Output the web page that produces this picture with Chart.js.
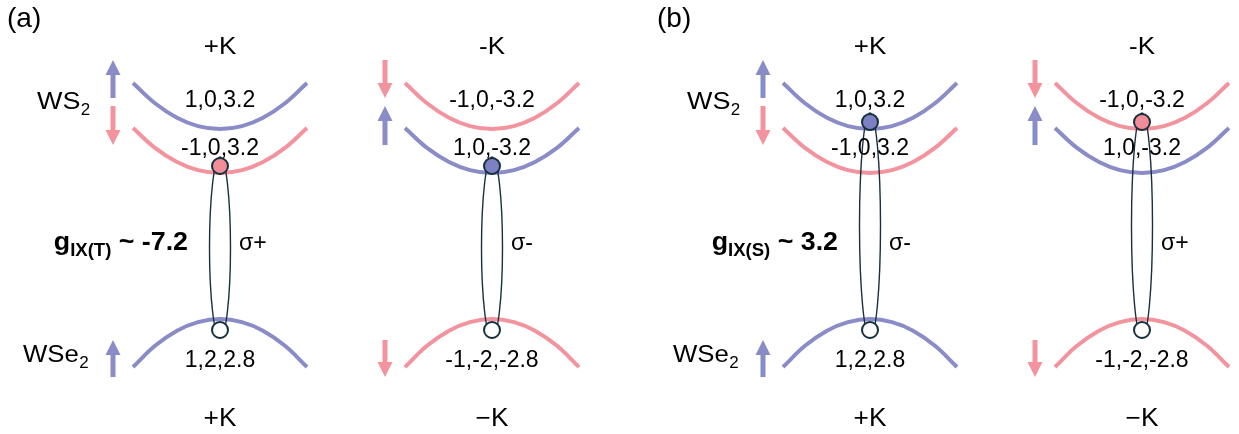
<!DOCTYPE html>
<html>
<head>
<meta charset="utf-8">
<script src="https://cdn.jsdelivr.net/npm/chart.js@4/dist/chart.umd.min.js"></script>
<style>
  html, body { margin: 0; padding: 0; background: #fff; }
  #wrap { width: 1239px; height: 434px; }
</style>
</head>
<body>
<div id="wrap"><canvas id="c" width="1239" height="434"></canvas></div>
<script>
// ---- valleys (columns): (a) +K, (a) -K, (b) +K, (b) -K ----
const panelNames = ['(a)', '(b)'];
const valleyNamesTop = ['+K', '-K', '+K', '-K'];
const valleyNamesBottom = ['+K', '\u2212K', '+K', '\u2212K'];
const valleyK = [220, 492, 870, 1142];

// k samples around each valley centre and band energies at those samples
const kSamples = [-87, -65, -43, -22, 0, 22, 43, 65, 87];
const ws2UpperE = [351, 330.7, 316.2, 307.9, 305, 307.9, 316.2, 330.7, 351];
const ws2LowerE = [306, 286.1, 272, 263.9, 261, 263.9, 272, 286.1, 306];
const wse2E = [67, 88.2, 103.3, 111.9, 115, 111.9, 103.3, 88.2, 67];

// spin of the upper WS2 band (the WSe2 band carries the same spin)
const upperSpin = ['up', 'down', 'up', 'down'];
// WS2 band that holds the electron of the interlayer exciton
const electronBand = ['lower', 'lower', 'upper', 'upper'];
const electronE = [268, 268, 312, 312];
const holeE = [104, 104, 104, 104];

// quantum-number labels
const upperQN = ['1,0,3.2', '-1,0,-3.2', '1,0,3.2', '-1,0,-3.2'];
const lowerQN = ['-1,0,3.2', '1,0,-3.2', '-1,0,3.2', '1,0,-3.2'];
const valenceQN = ['1,2,2.8', '-1,-2,-2.8', '1,2,2.8', '-1,-2,-2.8'];
const polarisation = ['σ+', 'σ-', 'σ-', 'σ+'];

// g-factors per panel
const gSub = ['IX(T)', 'IX(S)'];
const gValue = [-7.2, 3.2];

// ---- styling ----
const BLUE = '#8a8cc8', PINK = '#f2939d';
const BLUE_FILL = '#7b81c2', PINK_FILL = '#f08d98';
const DARK = '#17303d';
const FONT = '"Liberation Sans", Arial, Helvetica, sans-serif';
const spinColour = s => (s === 'up' ? BLUE : PINK);
const spinFill = s => (s === 'up' ? BLUE_FILL : PINK_FILL);
const flip = s => (s === 'up' ? 'down' : 'up');

const datasets = [];
valleyK.forEach((k0, v) => {
  const bands = [
    [ws2UpperE, upperSpin[v]],
    [ws2LowerE, flip(upperSpin[v])],
    [wse2E, upperSpin[v]]
  ];
  bands.forEach(([E, s]) => {
    datasets.push({
      type: 'line',
      data: kSamples.map((dk, i) => ({ x: k0 + dk, y: E[i] })),
      borderColor: spinColour(s),
      borderWidth: 4,
      borderCapStyle: 'butt',
      pointRadius: 0,
      tension: 0.4,
      fill: false,
      order: 3
    });
  });
});

// electron (filled) and hole (open) markers
const markerData = [], markerFill = [];
valleyK.forEach((k0, v) => {
  const bandSpin = electronBand[v] === 'upper' ? upperSpin[v] : flip(upperSpin[v]);
  markerData.push({ x: k0, y: electronE[v] });
  markerFill.push(spinFill(bandSpin));
});
valleyK.forEach((k0, v) => {
  markerData.push({ x: k0, y: holeE[v] });
  markerFill.push('#ffffff');
});
const MARKERS = datasets.length;
datasets.push({
  type: 'scatter',
  data: markerData,
  pointRadius: 8,
  pointHoverRadius: 8,
  backgroundColor: markerFill,
  borderColor: DARK,
  borderWidth: 2,
  order: 1
});

function arrow(ctx, x, yTail, yHead, colour) {
  const dir = Math.sign(yHead - yTail);
  const headLen = 15, headHalf = 7.5, shaft = 5;
  ctx.fillStyle = colour;
  const yBase = yHead - dir * headLen;
  ctx.fillRect(x - shaft / 2, Math.min(yTail, yBase), shaft, Math.abs(yBase - yTail));
  ctx.beginPath();
  ctx.moveTo(x, yHead);
  ctx.lineTo(x - headHalf, yBase);
  ctx.lineTo(x + headHalf, yBase);
  ctx.closePath();
  ctx.fill();
}

// draws a string; sx widens the glyphs horizontally
function text(ctx, str, x, y, size, align, bold, sx) {
  sx = sx || 1;
  ctx.save();
  ctx.font = (bold ? 'bold ' : '') + size + 'px ' + FONT;
  ctx.textAlign = align || 'left';
  ctx.textBaseline = 'alphabetic';
  ctx.fillStyle = '#000';
  ctx.translate(x, y);
  ctx.scale(sx, 1);
  ctx.fillText(str, 0, 0);
  const w = ctx.measureText(str).width * sx;
  ctx.restore();
  return w;
}

function subscripted(ctx, main, sub, x, y, size, subSize, subDrop, sx) {
  const w = text(ctx, main, x, y, size, 'left', false, sx);
  text(ctx, sub, x + w + 0.5, y + subDrop, subSize, 'left', false, 1);
}

const sketch = {
  id: 'sketch',
  beforeDatasetDraw(chart, args) {
    if (args.index !== MARKERS) return;
    const { ctx, scales: { x: xs, y: ys } } = chart;
    ctx.save();
    ctx.strokeStyle = DARK;
    ctx.lineWidth = 1.4;
    valleyK.forEach((k0, v) => {
      const cx = xs.getPixelForValue(k0);
      const rx = xs.getPixelForValue(k0 + 10.5) - cx;
      const top = ys.getPixelForValue(electronE[v]) - 9;
      const bot = ys.getPixelForValue(holeE[v]) + 8;
      ctx.beginPath();
      ctx.ellipse(cx, (top + bot) / 2, rx, (bot - top) / 2, 0, 0, Math.PI * 2);
      ctx.stroke();
    });
    ctx.restore();
  },
  afterDatasetsDraw(chart) {
    const { ctx, scales: { x: xs, y: ys } } = chart;
    const X = k => xs.getPixelForValue(k);
    const Y = e => ys.getPixelForValue(e);
    const vertex = E => E[(E.length - 1) / 2];
    ctx.save();

    valleyK.forEach((k0, v) => {
      const cx = X(k0);
      // spin arrows beside the bands
      const ax = X(k0 - 107);
      const up = upperSpin[v] === 'up';
      const slot = (lo, hi, isUp, col) => isUp ? arrow(ctx, ax, Y(lo), Y(hi), col) : arrow(ctx, ax, Y(hi), Y(lo), col);
      slot(336, 374, up, spinColour(upperSpin[v]));
      slot(289, 328, !up, spinColour(flip(upperSpin[v])));
      slot(57, 94, up, spinColour(upperSpin[v]));

      // valley names and quantum numbers
      text(ctx, valleyNamesTop[v], cx, Y(380), 23, 'center', false, 1.13);
      text(ctx, valleyNamesBottom[v], cx, Y(8), 25, 'center', false, 1.05);
      text(ctx, upperQN[v], cx, Y(vertex(ws2UpperE) + 22), 23, 'center');
      text(ctx, lowerQN[v], cx, Y(vertex(ws2LowerE) + 18), 23, 'center');
      text(ctx, valenceQN[v], cx, Y(vertex(wse2E) - 48), 23, 'center');
      text(ctx, polarisation[v], X(k0 + 19), Y(184), 23, 'left');
    });

    panelNames.forEach((name, p) => {
      const k0 = valleyK[p * 2];
      text(ctx, name, X(k0 - 213), Y(407), 28, 'left');
      subscripted(ctx, 'WS', '2', X(k0 - 183), Y(325), 23, 17, 6, 1.17);
      subscripted(ctx, 'WSe', '2', X(k0 - 197), Y(72), 23, 17, 6, 1.12);

      // g-factor label, right-aligned next to the exciton loop
      const sx = 1.03;
      ctx.font = 'bold 26px ' + FONT;
      const gW = ctx.measureText('g').width * sx;
      const tail = ' ~ ' + gValue[p].toFixed(1);
      const tW = ctx.measureText(tail).width * sx;
      ctx.font = 'bold 18px ' + FONT;
      const sW = ctx.measureText(gSub[p]).width * sx;
      let x = X(k0 - 32) - (gW + sW + tW);
      const yb = Y(184);
      text(ctx, 'g', x, yb, 26, 'left', true, sx); x += gW;
      text(ctx, gSub[p], x, yb + 6, 18, 'left', true, sx); x += sW;
      text(ctx, tail, x, yb, 26, 'left', true, sx);
    });

    ctx.restore();
  }
};

new Chart(document.getElementById('c'), {
  data: { datasets },
  options: {
    responsive: false,
    devicePixelRatio: 1,
    animation: false,
    events: [],
    layout: { padding: 0, autoPadding: false },
    plugins: { legend: { display: false }, tooltip: { enabled: false } },
    scales: {
      x: { type: 'linear', min: 0, max: 1239, display: false },
      y: { type: 'linear', min: 0, max: 434, display: false }
    }
  },
  plugins: [sketch]
});
</script>
</body>
</html>
